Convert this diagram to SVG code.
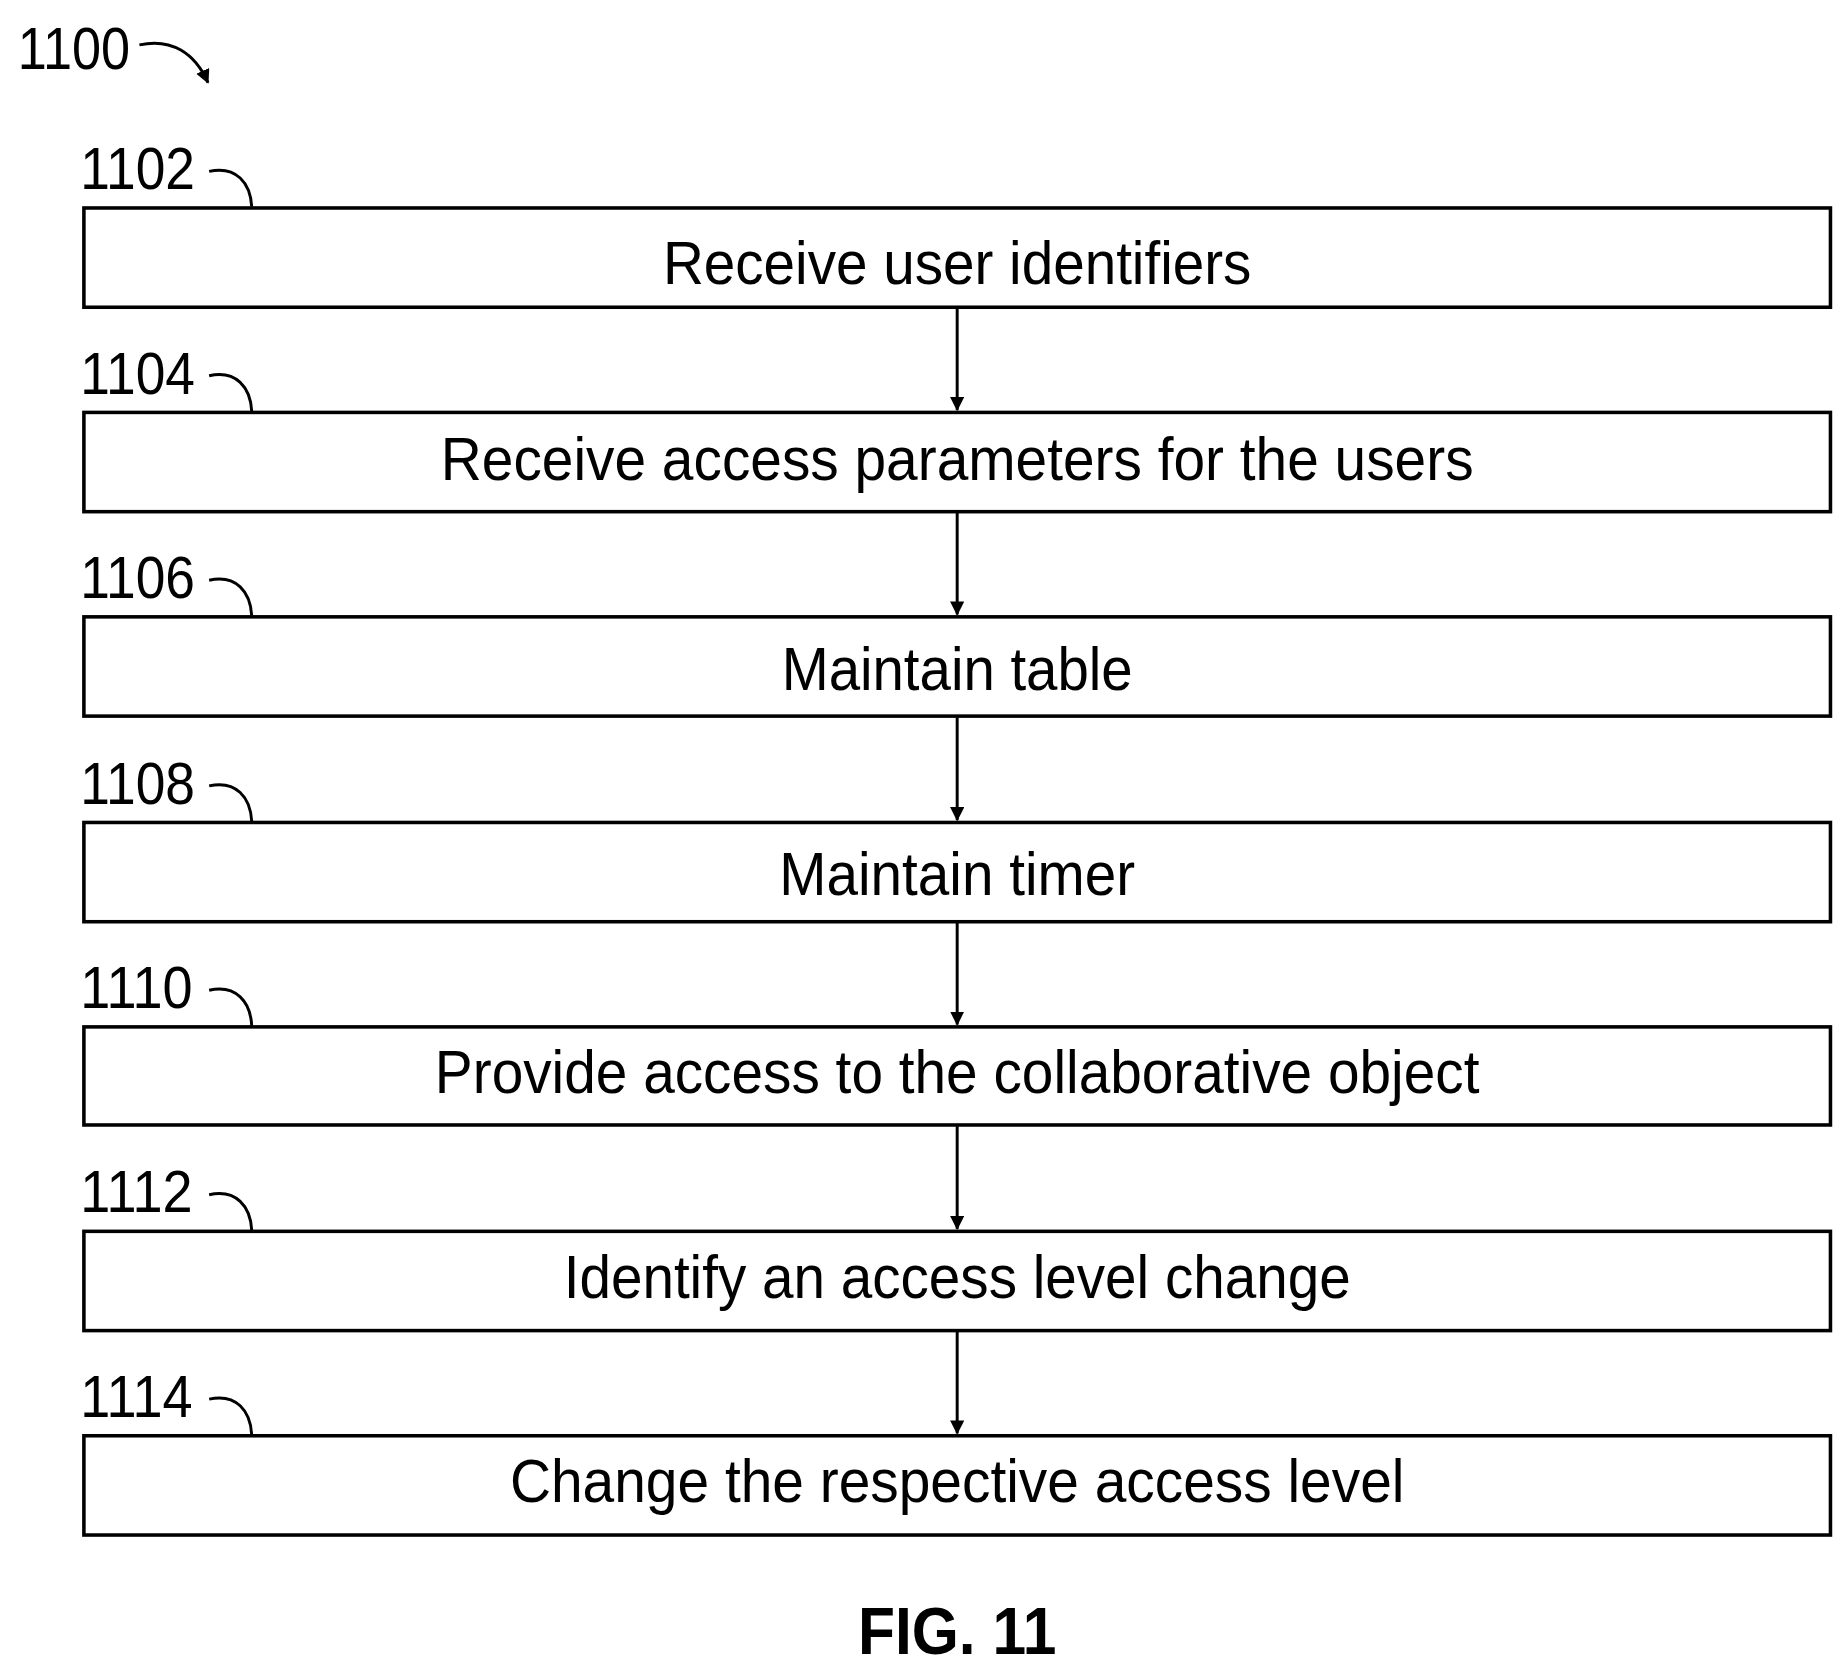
<svg xmlns="http://www.w3.org/2000/svg" width="1847" height="1670" viewBox="0 0 1847 1670">
<style>
.box{fill:#fff;stroke:#000;stroke-width:3}
.t{font-family:"Liberation Sans",Arial,sans-serif;font-size:52px;text-anchor:middle}
.l{font-family:"Liberation Sans",Arial,sans-serif;font-size:50px}
.c{fill:none;stroke:#000;stroke-width:2.5}
.a{stroke:#000;stroke-width:2.5;marker-end:url(#ah)}
</style>
<defs>
<marker id="ah" markerWidth="12" markerHeight="14" refX="11" refY="6" orient="auto" markerUnits="userSpaceOnUse"><path d="M0,0 L12,6 L0,12 Z" fill="#000"/></marker>
</defs>
<rect width="1847" height="1670" fill="#fff"/>
<g transform="scale(1.1817)">
<g id="n1100"><text class="l" x="15" y="58" textLength="95" lengthAdjust="spacingAndGlyphs">1100</text>
<path class="c" d="M118,38 C145,32 165,45 176,70" marker-end="url(#ah)"/></g>
<g id="n1102"><rect class="box" x="71" y="176" width="1478" height="84"/><text class="t" x="810" y="240" textLength="498" lengthAdjust="spacingAndGlyphs">Receive user identifiers</text><text class="l" x="68" y="160" textLength="97" lengthAdjust="spacingAndGlyphs">1102</text><path class="c" d="M177,145 C200,140 212,155 213,175"/></g>
<g id="n1104"><rect class="box" x="71" y="349" width="1478" height="84"/><text class="t" x="810" y="406" textLength="874" lengthAdjust="spacingAndGlyphs">Receive access parameters for the users</text><text class="l" x="68" y="333" textLength="97" lengthAdjust="spacingAndGlyphs">1104</text><path class="c" d="M177,318 C200,313 212,328 213,348"/></g>
<g id="n1106"><rect class="box" x="71" y="522" width="1478" height="84"/><text class="t" x="810" y="584" textLength="297" lengthAdjust="spacingAndGlyphs">Maintain table</text><text class="l" x="68" y="506" textLength="97" lengthAdjust="spacingAndGlyphs">1106</text><path class="c" d="M177,491 C200,486 212,501 213,521"/></g>
<g id="n1108"><rect class="box" x="71" y="696" width="1478" height="84"/><text class="t" x="810" y="757" textLength="301" lengthAdjust="spacingAndGlyphs">Maintain timer</text><text class="l" x="68" y="680" textLength="97" lengthAdjust="spacingAndGlyphs">1108</text><path class="c" d="M177,665 C200,660 212,675 213,695"/></g>
<g id="n1110"><rect class="box" x="71" y="869" width="1478" height="83"/><text class="t" x="810" y="925" textLength="884" lengthAdjust="spacingAndGlyphs">Provide access to the collaborative object</text><text class="l" x="68" y="853" textLength="95" lengthAdjust="spacingAndGlyphs">1110</text><path class="c" d="M177,838 C200,833 212,848 213,868"/></g>
<g id="n1112"><rect class="box" x="71" y="1042" width="1478" height="84"/><text class="t" x="810" y="1098" textLength="666" lengthAdjust="spacingAndGlyphs">Identify an access level change</text><text class="l" x="68" y="1026" textLength="95" lengthAdjust="spacingAndGlyphs">1112</text><path class="c" d="M177,1011 C200,1006 212,1021 213,1041"/></g>
<g id="n1114"><rect class="box" x="71" y="1215" width="1478" height="84"/><text class="t" x="810" y="1271" textLength="757" lengthAdjust="spacingAndGlyphs">Change the respective access level</text><text class="l" x="68" y="1199" textLength="95" lengthAdjust="spacingAndGlyphs">1114</text><path class="c" d="M177,1184 C200,1179 212,1194 213,1214"/></g>
<g id="connectors">
<line class="a" x1="810" y1="261" x2="810" y2="347"/>
<line class="a" x1="810" y1="434" x2="810" y2="520"/>
<line class="a" x1="810" y1="607" x2="810" y2="694"/>
<line class="a" x1="810" y1="781" x2="810" y2="867"/>
<line class="a" x1="810" y1="953" x2="810" y2="1040"/>
<line class="a" x1="810" y1="1127" x2="810" y2="1213"/>
</g>
<text x="810" y="1400" font-family="Liberation Sans,Arial,sans-serif" font-weight="bold" font-size="56" text-anchor="middle" textLength="168" lengthAdjust="spacingAndGlyphs">FIG. 11</text>
</g>
</svg>
